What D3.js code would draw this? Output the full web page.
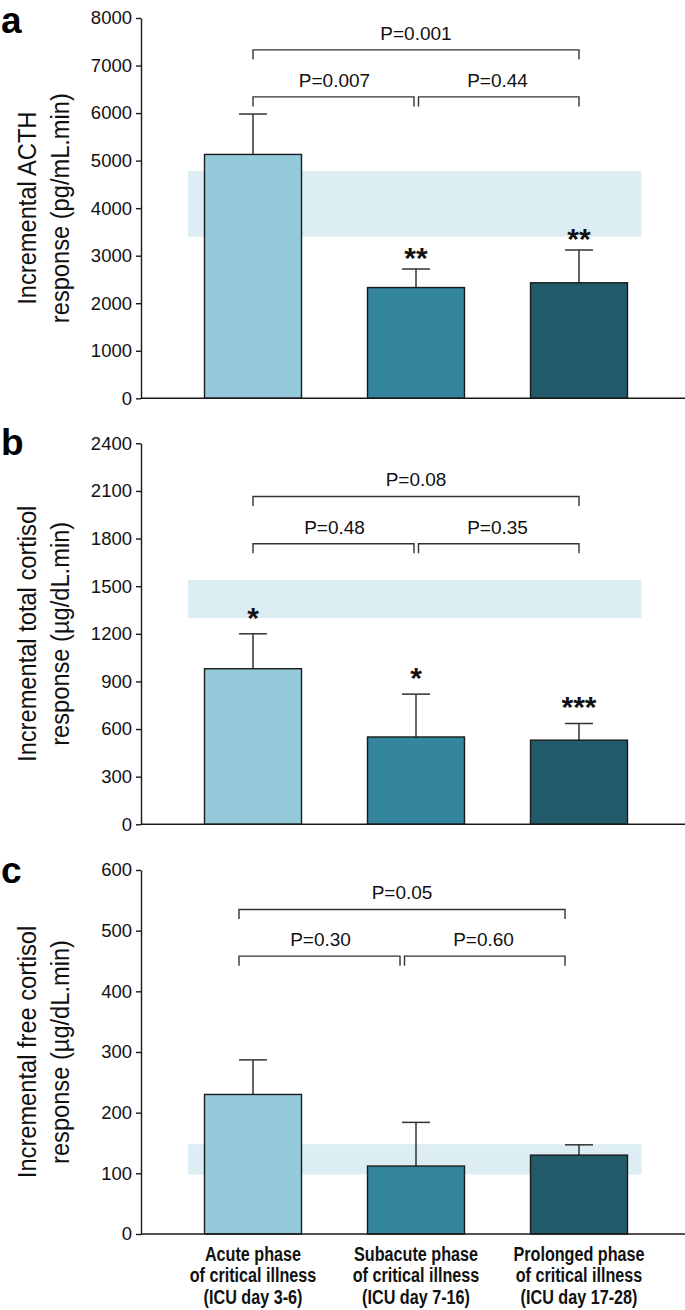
<!DOCTYPE html>
<html>
<head>
<meta charset="utf-8">
<script src="https://cdn.jsdelivr.net/npm/d3@7"></script>
<style>
  html, body { margin: 0; padding: 0; background: #fff; }
  svg { display: block; font-family: "Liberation Sans", Arial, Helvetica, sans-serif; }
</style>
</head>
<body>
<svg id="chart" width="685" height="1310"></svg>
<script>
// ---------------- data ----------------
const categories = ["Acute", "Subacute", "Prolonged"];
const categoryLabels = [
  ["Acute phase", "of critical illness", "(ICU day 3-6)"],
  ["Subacute phase", "of critical illness", "(ICU day 7-16)"],
  ["Prolonged phase", "of critical illness", "(ICU day 17-28)"]
];

// Panel a: incremental ACTH response
const acthMean = [5130, 2330, 2430];
const acthSem = [850, 390, 690];
const acthRef = [3400, 4780];
const acthStars = ["", "**", "**"];
const acthP = ["P=0.007", "P=0.44", "P=0.001"];
const acthTicks = [0, 1000, 2000, 3000, 4000, 5000, 6000, 7000, 8000];
const acthBrackets = [6340, 7330];

// Panel b: incremental total cortisol response
const totalMean = [980, 550, 530];
const totalSem = [220, 270, 105];
const totalRef = [1300, 1540];
const totalStars = ["*", "*", "***"];
const totalP = ["P=0.48", "P=0.35", "P=0.08"];
const totalTicks = [0, 300, 600, 900, 1200, 1500, 1800, 2100, 2400];
const totalBrackets = [1767, 2065];

// Panel c: incremental free cortisol response
const freeMean = [230, 112, 130];
const freeSem = [57, 72, 17];
const freeRef = [98, 148];
const freeStars = ["", "", ""];
const freeP = ["P=0.30", "P=0.60", "P=0.05"];
const freeTicks = [0, 100, 200, 300, 400, 500, 600];
const freeBrackets = [458, 535];

const barColors = ["#95cadb", "#33869d", "#235a69"];
const refColor = "#dceef4";

// ---------------- layout ----------------
const svg = d3.select("#chart");
const axisX = 141;
const x = d3.scaleBand().domain(categories).range([171.5, 660.5]).paddingInner(0.405).paddingOuter(0.2025);

const panels = [
  { letter: "a", letterY: 33, mean: acthMean, sem: acthSem, ref: acthRef, stars: acthStars, p: acthP,
    ticks: acthTicks, brackets: acthBrackets, yRange: [398.3, 18], title: ["Incremental ACTH", "response (pg/mL.min)"],
    starGap: 1, bracketShift: 0 },
  { letter: "b", letterY: 455, mean: totalMean, sem: totalSem, ref: totalRef, stars: totalStars, p: totalP,
    ticks: totalTicks, brackets: totalBrackets, yRange: [824.3, 443.3], title: ["Incremental total cortisol", "response (\u00b5g/dL.min)"],
    starGap: 6, bracketShift: 0 },
  { letter: "c", letterY: 883, mean: freeMean, sem: freeSem, ref: freeRef, stars: freeStars, p: freeP,
    ticks: freeTicks, brackets: freeBrackets, yRange: [1234, 870], title: ["Incremental free cortisol", "response (\u00b5g/dL.min)"],
    starGap: 4, bracketShift: -14, showX: true }
];

panels.forEach(pn => {
  const ticks = pn.ticks;
  const y = d3.scaleLinear().domain([ticks[0], ticks[ticks.length - 1]]).range(pn.yRange);
  const g = svg.append("g");

  // reference band
  const bandL = x(categories[0]) - 16.5;
  const bandR = x(categories[2]) + x.bandwidth() + 14;
  g.append("rect")
    .attr("x", bandL).attr("width", bandR - bandL)
    .attr("y", y(pn.ref[1])).attr("height", y(pn.ref[0]) - y(pn.ref[1]))
    .attr("fill", refColor);

  // error bars (upper only)
  categories.forEach((c, i) => {
    const cx = x(c) + x.bandwidth() / 2;
    const top = y(pn.mean[i] + pn.sem[i]);
    g.append("line").attr("x1", cx).attr("x2", cx).attr("y1", y(pn.mean[i])).attr("y2", top)
      .attr("stroke", "#333").attr("stroke-width", 1.5);
    g.append("line").attr("x1", cx - 14).attr("x2", cx + 14).attr("y1", top).attr("y2", top)
      .attr("stroke", "#333").attr("stroke-width", 1.5);
    if (pn.stars[i]) {
      g.append("text").attr("x", cx).attr("y", top - pn.starGap)
        .attr("text-anchor", "middle").attr("font-size", 30).attr("font-weight", "bold")
        .attr("fill", "#111").text(pn.stars[i]);
    }
  });

  // bars
  g.selectAll("rect.bar").data(categories).enter().append("rect")
    .attr("class", "bar")
    .attr("x", d => x(d)).attr("width", x.bandwidth())
    .attr("y", (d, i) => y(pn.mean[i]))
    .attr("height", (d, i) => y(0) - y(pn.mean[i]))
    .attr("fill", (d, i) => barColors[i])
    .attr("stroke", "#1a1a1a").attr("stroke-width", 1.4);

  // axes
  const yAxis = d3.axisLeft(y).tickValues(ticks).tickSize(5).tickSizeOuter(0).tickPadding(4).tickFormat(d3.format("d"));
  const ya = g.append("g").attr("transform", `translate(${axisX},0)`).call(yAxis);
  ya.selectAll("path, line").attr("stroke", "#1a1a1a").attr("stroke-width", 1.4);
  ya.selectAll("text").attr("font-size", 18.5).attr("fill", "#111")
    .attr("font-family", "'Liberation Sans', Arial, sans-serif");

  g.append("line").attr("x1", axisX).attr("x2", 685).attr("y1", y(0)).attr("y2", y(0))
    .attr("stroke", "#1a1a1a").attr("stroke-width", 1.4);

  // brackets
  const c0 = x(categories[0]) + x.bandwidth() / 2 + pn.bracketShift;
  const c1 = x(categories[1]) + x.bandwidth() / 2 + pn.bracketShift;
  const c2 = x(categories[2]) + x.bandwidth() / 2 + pn.bracketShift;
  const drop = 9.5;
  const lowY = y(pn.brackets[0]);
  const highY = y(pn.brackets[1]);
  const bracket = (xa, xb, yy) => {
    g.append("path")
      .attr("d", `M${xa},${yy + drop}V${yy}H${xb}V${yy + drop}`)
      .attr("fill", "none").attr("stroke", "#333").attr("stroke-width", 1.4);
  };
  bracket(c0, c1 - 2, lowY);
  bracket(c1 + 2.5, c2, lowY);
  bracket(c0, c2, highY);
  const pLabel = (cx, yy, t) => g.append("text").attr("x", cx).attr("y", yy - 10)
    .attr("text-anchor", "middle").attr("font-size", 19).attr("fill", "#111").text(t);
  pLabel((c0 + c1) / 2, lowY, pn.p[0]);
  pLabel((c1 + c2) / 2, lowY, pn.p[1]);
  pLabel((c0 + c2) / 2, highY, pn.p[2]);

  // panel letter
  g.append("text").attr("x", 1).attr("y", pn.letterY).attr("font-size", 37).attr("font-weight", "bold")
    .attr("fill", "#000").text(pn.letter);

  // y title
  const midY = (pn.yRange[0] + pn.yRange[1]) / 2;
  pn.title.forEach((t, k) => {
    g.append("text")
      .attr("transform", `translate(${36 + k * 33},${midY}) rotate(-90) scale(0.91,1)`)
      .attr("text-anchor", "middle").attr("font-size", 26).attr("fill", "#111").text(t);
  });

  // category labels
  if (pn.showX) {
    categories.forEach((c, i) => {
      const cx = x(c) + x.bandwidth() / 2;
      categoryLabels[i].forEach((line, k) => {
        g.append("text")
          .attr("transform", `translate(${cx},${y(0) + 27 + k * 21.3}) scale(0.77,1)`)
          .attr("text-anchor", "middle").attr("font-size", 21).attr("font-weight", "bold")
          .attr("fill", "#111").text(line);
      });
    });
  }
});
</script>
</body>
</html>
